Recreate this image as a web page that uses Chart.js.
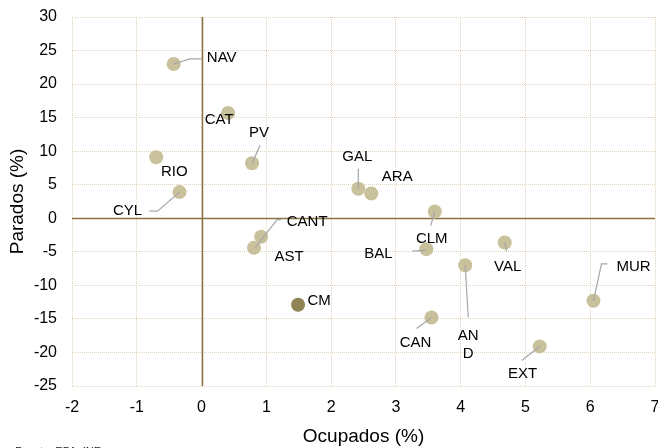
<!DOCTYPE html>
<html>
<head>
<meta charset="utf-8">
<script src="https://cdn.jsdelivr.net/npm/chart.js@4/dist/chart.umd.min.js"></script>
<style>
  html, body { margin: 0; padding: 0; background: #fff; }
  #wrap { width: 658px; height: 448px; }
</style>
</head>
<body>
<div id="wrap"><canvas id="chart"></canvas></div>
<script>
/* ── Data ── */
const regions  = ["NAV", "CAT", "PV", "RIO", "CYL", "GAL", "ARA", "CLM", "CANT",
                  "AST", "BAL", "VAL", "AND", "MUR", "CM", "CAN", "EXT"];
const ocupados = [-0.43, 0.41, 0.78, -0.70, -0.34, 2.42, 2.62, 3.60, 0.92,
                  0.81, 3.47, 4.68, 4.07, 6.05, 1.49, 3.55, 5.22];
const parados  = [23.0, 15.7, 8.2, 9.1, 3.9, 4.4, 3.7, 1.0, -2.75,
                  -4.4, -4.6, -3.6, -7.0, -12.3, -12.9, -14.8, -19.1];
const highlight = "CM";

/* ── Label placement (pixel offsets from the point) ── */
const labelLayout = {
  NAV:  { at: [48, -6],  lead: [[0, 0], [16, -5], [28, -5]] },
  CAT:  { at: [-9, 7] },
  PV:   { at: [7, -30],  lead: [[0, 0], [8, -18]] },
  RIO:  { at: [18, 15] },
  CYL:  { at: [-52, 19], lead: [[0, 0], [-22, 19], [-30, 19]] },
  GAL:  { at: [-1, -32], lead: [[0, 0], [0, -20]] },
  ARA:  { at: [26, -17] },
  CLM:  { at: [-3, 27],  lead: [[0, 0], [-4, 14]] },
  CANT: { at: [46, -15], lead: [[-6, 11], [16, -17], [20, -17]] },
  AST:  { at: [35, 9] },
  BAL:  { at: [-48, 5],  lead: [[0, 1], [-14, 2]] },
  VAL:  { at: [3, 24],   lead: [[0, 0], [2, 9]] },
  AND:  { at: [3, 71],   lead: [[0, 0], [3, 52]], lines: ["AN", "D"] },
  MUR:  { at: [40, -34], lead: [[0, 0], [8, -37], [14, -37]] },
  CM:   { at: [21, -4] },
  CAN:  { at: [-16, 25], lead: [[0, 0], [-15, 11]] },
  EXT:  { at: [-17, 27], lead: [[0, 0], [-18, 14]] },
};

const COLORS = {
  point:     "#c9c09c",
  pointDark: "#908454",
  grid:      "#e0d4ba",
  zero:      "#8a7244",
  leader:    "#a6a6a6",
  text:      "#000000",
};
const FONT = "'Liberation Sans', Arial, sans-serif";

/* ── Plugins ── */
const zeroLines = {
  id: "zeroLines",
  beforeDatasetsDraw(chart) {
    const { ctx, chartArea: a, scales: { x, y } } = chart;
    const x0 = Math.round(x.getPixelForValue(0)) + 0.5;
    const y0 = Math.round(y.getPixelForValue(0)) + 0.5;
    ctx.save();
    ctx.strokeStyle = COLORS.zero;
    ctx.lineWidth = 1.5;
    ctx.beginPath();
    ctx.moveTo(x0, a.top);    ctx.lineTo(x0, a.bottom);
    ctx.moveTo(a.left, y0);   ctx.lineTo(a.right, y0);
    ctx.stroke();
    ctx.restore();
  },
};

const pointLabels = {
  id: "pointLabels",
  afterDatasetsDraw(chart) {
    const { ctx } = chart;
    const meta = chart.getDatasetMeta(0);
    ctx.save();
    meta.data.forEach((pt, i) => {
      const name = regions[i];
      const lay  = labelLayout[name];
      if (!lay) return;
      if (lay.lead) {
        ctx.strokeStyle = COLORS.leader;
        ctx.lineWidth = 1.2;
        ctx.beginPath();
        lay.lead.forEach(([dx, dy], k) => {
          if (k === 0) ctx.moveTo(pt.x + dx, pt.y + dy);
          else         ctx.lineTo(pt.x + dx, pt.y + dy);
        });
        ctx.stroke();
      }
      ctx.fillStyle = COLORS.text;
      ctx.font = "15px " + FONT;
      ctx.textAlign = "center";
      ctx.textBaseline = "middle";
      const lines = lay.lines || [name];
      lines.forEach((t, k) => {
        ctx.fillText(t, pt.x + lay.at[0], pt.y + lay.at[1] + k * 18);
      });
    });
    ctx.restore();
  },
  afterDraw(chart) {
    const { ctx } = chart;
    ctx.save();
    ctx.fillStyle = "#222";
    ctx.font = "11px " + FONT;
    ctx.textAlign = "left";
    ctx.textBaseline = "top";
    ctx.fillText("Fuente: EPA, INE", 15, 446);
    ctx.restore();
  },
};

function noPadding(s) {
  s.paddingLeft = 0;
  s.paddingRight = 0;
  s.paddingTop = 0;
  s.paddingBottom = 0;
}

/* ── Chart ── */
new Chart(document.getElementById("chart"), {
  type: "scatter",
  data: {
    datasets: [{
      data: ocupados.map((v, i) => ({ x: v, y: parados[i] })),
      backgroundColor: regions.map(r => r === highlight ? COLORS.pointDark : COLORS.point),
      borderWidth: 0,
      pointRadius: 7,
      pointHoverRadius: 7,
    }],
  },
  options: {
    responsive: true,
    maintainAspectRatio: false,
    animation: false,
    layout: { autoPadding: false, padding: { top: 17, right: 3, left: 0, bottom: 0 } },
    plugins: {
      legend:  { display: false },
      tooltip: { enabled: false },
    },
    scales: {
      x: {
        type: "linear",
        min: -2, max: 7,
        ticks: { stepSize: 1, color: "#000", padding: 12, font: { family: FONT, size: 16 } },
        grid:  { color: COLORS.grid, drawTicks: false, lineWidth: 1 },
        border: { display: false, dash: [1, 1] },
        title: { display: true, text: "Ocupados (%)", color: "#000", padding: { top: 0, bottom: 0 },
                 font: { family: FONT, size: 19 } },
        afterFit: s => { s.height = 62; noPadding(s); },
      },
      y: {
        type: "linear",
        min: -25, max: 30,
        ticks: { stepSize: 5, color: "#000", padding: 15, font: { family: FONT, size: 16 } },
        grid:  { color: COLORS.grid, drawTicks: false, lineWidth: 1 },
        border: { display: false, dash: [1, 1] },
        title: { display: true, text: "Parados (%)", color: "#000", padding: { top: 6, bottom: 0 },
                 font: { family: FONT, size: 19 } },
        afterFit: s => { s.width = 72; noPadding(s); },
      },
    },
  },
  plugins: [zeroLines, pointLabels],
});
</script>
</body>
</html>
